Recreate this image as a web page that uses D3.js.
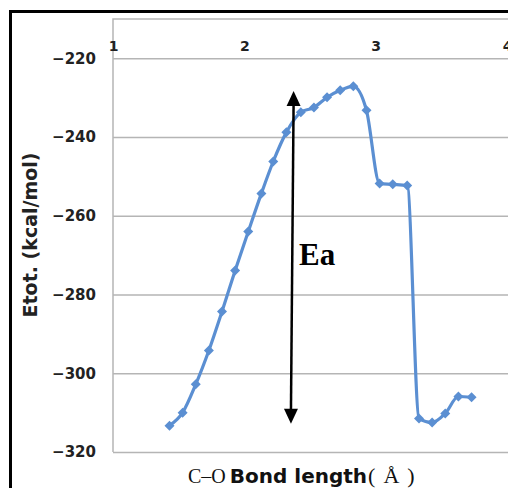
<!DOCTYPE html>
<html lang="en">
<head>
<meta charset="UTF-8">
<title>C-O Bond length</title>
<script src="https://cdn.jsdelivr.net/npm/d3@7"></script>
<style>
  body { margin: 0; background: #fff; }
  svg { display: block; }
  .tick text { font-family: "DejaVu Sans", sans-serif; font-weight: bold; fill: #222; }
</style>
</head>
<body>
<div id="chart"></div>
<script>
// data
const bondLength = [1.43, 1.53, 1.63, 1.73, 1.83, 1.93, 2.03, 2.13, 2.22, 2.32, 2.43, 2.53,
                    2.63, 2.73, 2.83, 2.93, 3.03, 3.13, 3.24, 3.33, 3.43, 3.53, 3.63, 3.73];
const energy = [-313.3, -310, -302.8, -294.2, -284.3, -273.9, -264, -254.3, -246.2, -238.8, -233.7, -232.5,
                -229.9, -228.1, -227.1, -233.2, -251.8, -252, -252.3, -311.5, -312.5, -310.2, -305.9, -306.1];
const xTicks = [1, 2, 3, 4];
const yTicks = [-220, -240, -260, -280, -300, -320];
// Ea arrow, in data units
const arrowBottom = [2.355, -312.8];
const arrowTop = [2.375, -228.3];

const W = 508, H = 488;
const svg = d3.select("#chart").append("svg")
    .attr("width", W).attr("height", H);

const x = d3.scaleLinear().domain([1, 4]).range([113, 507]);
const y = d3.scaleLinear().domain([-320, -210]).range([452, 19]);

// outer frame
svg.append("path")
    .attr("d", "M10.5,488 V11.5 H508")
    .attr("fill", "none").attr("stroke", "#000").attr("stroke-width", 3);

// gridlines + y labels
const yAxis = svg.append("g")
    .attr("transform", "translate(" + x(1) + ",0)")
    .call(d3.axisLeft(y).tickValues(yTicks).tickSize(-(W - x(1)))
        .tickFormat(function (d) { return "\u2212" + Math.abs(d); }));
yAxis.select(".domain").remove();
yAxis.selectAll(".tick line").attr("stroke", "#b5b5b5").attr("stroke-width", 1.5);
yAxis.selectAll(".tick text").attr("x", -17).attr("font-size", 15);

// plot border (left & top)
svg.append("path")
    .attr("d", "M" + x(1) + "," + y(-320) + " V" + y(-210) + " H" + W)
    .attr("fill", "none").attr("stroke", "#b5b5b5").attr("stroke-width", 1.5);

// x labels sit near the top
const xAxis = svg.append("g")
    .attr("transform", "translate(0,51)")
    .call(d3.axisBottom(x).tickValues(xTicks).tickSize(0).tickFormat(d3.format("d")));
xAxis.select(".domain").remove();
xAxis.selectAll(".tick text").attr("font-size", 14).attr("y", 0).attr("dy", 0);

// series
const pts = bondLength.map(function (d, i) { return [d, energy[i]]; });
const line = d3.line()
    .x(function (d) { return x(d[0]); })
    .y(function (d) { return y(d[1]); })
    .curve(d3.curveMonotoneX);

svg.append("path")
    .datum(pts)
    .attr("d", line)
    .attr("fill", "none")
    .attr("stroke", "#5b8fd2")
    .attr("stroke-width", 3.2);

svg.append("g").selectAll("path")
    .data(pts)
    .enter()
    .append("path")
    .attr("d", d3.symbol(d3.symbolSquare, 50))
    .attr("transform", function (d) { return "translate(" + x(d[0]) + "," + y(d[1]) + ") rotate(45)"; })
    .attr("fill", "#5b8fd2");

// Ea double arrow
const ax1 = x(arrowBottom[0]), ay1 = y(arrowBottom[1]);
const ax2 = x(arrowTop[0]), ay2 = y(arrowTop[1]);
const headLen = 15, headW = 7;
svg.append("line")
    .attr("x1", ax1).attr("y1", ay1 - headLen + 2)
    .attr("x2", ax2).attr("y2", ay2 + headLen - 2)
    .attr("stroke", "#000").attr("stroke-width", 2.5);
svg.append("path")
    .attr("d", "M" + ax2 + "," + ay2 + " L" + (ax2 - headW) + "," + (ay2 + headLen) +
        " L" + (ax2 + headW) + "," + (ay2 + headLen) + "Z")
    .attr("fill", "#000");
svg.append("path")
    .attr("d", "M" + ax1 + "," + ay1 + " L" + (ax1 - headW) + "," + (ay1 - headLen) +
        " L" + (ax1 + headW) + "," + (ay1 - headLen) + "Z")
    .attr("fill", "#000");

svg.append("text")
    .attr("x", 299).attr("y", 265)
    .attr("font-family", "Liberation Serif, serif")
    .attr("font-weight", "bold")
    .attr("font-size", 31)
    .text("Ea");

// axis titles
svg.append("text")
    .attr("transform", "translate(37,235) rotate(-90)")
    .attr("text-anchor", "middle")
    .attr("font-family", "DejaVu Sans, sans-serif")
    .attr("font-weight", "bold")
    .attr("font-size", 19)
    .attr("fill", "#222")
    .text("Etot. (kcal/mol)");

const xt = svg.append("text")
    .attr("x", 188).attr("y", 483)
    .attr("fill", "#111");
xt.append("tspan").attr("font-family", "Liberation Serif, serif").attr("font-size", 20).text("C\u2013O");
xt.append("tspan").attr("font-family", "DejaVu Sans, sans-serif").attr("font-weight", "bold")
    .attr("font-size", 20).attr("dx", 4).text("Bond length");
xt.append("tspan").attr("font-family", "Liberation Serif, serif").attr("font-size", 22).attr("dx", 1).text("(");
xt.append("tspan").attr("font-family", "Liberation Serif, serif").attr("font-size", 22).attr("dx", 8).text("\u00c5");
xt.append("tspan").attr("font-family", "Liberation Serif, serif").attr("font-size", 22).attr("dx", 8).text(")");
</script>
</body>
</html>
